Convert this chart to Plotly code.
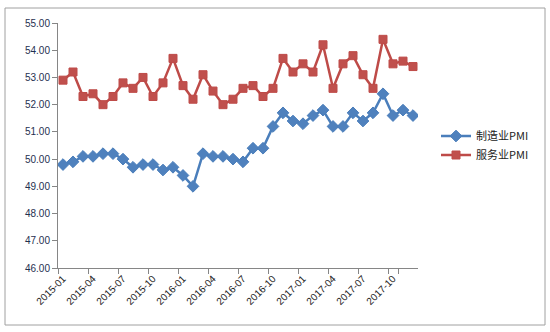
import plotly.graph_objects as go

months = [f"{y}-{m:02d}" for y in (2015, 2016, 2017) for m in range(1, 13)]
manufacturing = [49.8, 49.9, 50.1, 50.1, 50.2, 50.2, 50.0, 49.7, 49.8, 49.8, 49.6, 49.7,
                 49.4, 49.0, 50.2, 50.1, 50.1, 50.0, 49.9, 50.4, 50.4, 51.2, 51.7, 51.4,
                 51.3, 51.6, 51.8, 51.2, 51.2, 51.7, 51.4, 51.7, 52.4, 51.6, 51.8, 51.6]
services = [52.9, 53.2, 52.3, 52.4, 52.0, 52.3, 52.8, 52.6, 53.0, 52.3, 52.8, 53.7,
            52.7, 52.2, 53.1, 52.5, 52.0, 52.2, 52.6, 52.7, 52.3, 52.6, 53.7, 53.2,
            53.5, 53.2, 54.2, 52.6, 53.5, 53.8, 53.1, 52.6, 54.4, 53.5, 53.6, 53.4]
names = ["制造业PMI", "服务业PMI"]
y_ticks = [46, 47, 48, 49, 50, 51, 52, 53, 54, 55]

fig = go.Figure()
fig.add_trace(go.Scatter(x=months, y=manufacturing, name=names[0], mode="lines+markers",
                         line=dict(color="#4A7EBB", width=2.5),
                         marker=dict(symbol="diamond", size=9, color="#4F81BD",
                                     line=dict(color="#4A7EBB", width=1))))
fig.add_trace(go.Scatter(x=months, y=services, name=names[1], mode="lines+markers",
                         line=dict(color="#BE4B48", width=2.5),
                         marker=dict(symbol="square", size=8, color="#C0504D",
                                     line=dict(color="#BE4B48", width=1))))

fig.update_layout(
    width=550, height=332,
    margin=dict(l=58, r=132, t=23, b=64),
    paper_bgcolor="white", plot_bgcolor="white",
    font=dict(family="Liberation Sans, Noto Sans CJK SC", size=10, color="#222222"),
    legend=dict(x=1.05, y=0.5, xanchor="left", yanchor="middle",
                font=dict(size=11, family="Noto Sans CJK SC, Liberation Sans"),
                bgcolor="rgba(0,0,0,0)", tracegroupgap=4),
    shapes=[dict(type="rect", xref="paper", yref="paper",
                 x0=(5 - 58) / 360, x1=(545 - 58) / 360,
                 y0=(268 - 325) / 245, y1=(268 - 8) / 245,
                 line=dict(color="#A0A0A0", width=1), fillcolor="rgba(0,0,0,0)", layer="below")],
)
fig.update_xaxes(type="category", range=[-0.5, 35.5], tickmode="array",
                 tickvals=months[::3], ticktext=months[::3], tickangle=-45,
                 tickson="boundaries", ticks="outside", ticklen=5, tickcolor="#868686",
                 showline=True, linecolor="#868686", linewidth=1, showgrid=False,
                 tickfont=dict(size=10))
fig.update_yaxes(range=[46, 55], tickvals=y_ticks, ticktext=[f"{v:.2f}" for v in y_ticks],
                 ticks="outside", ticklen=5, tickcolor="#868686",
                 showline=True, linecolor="#868686", linewidth=1, showgrid=False,
                 zeroline=False, tickfont=dict(size=10, color="#1F3050"))

fig.write_html("out.html")
